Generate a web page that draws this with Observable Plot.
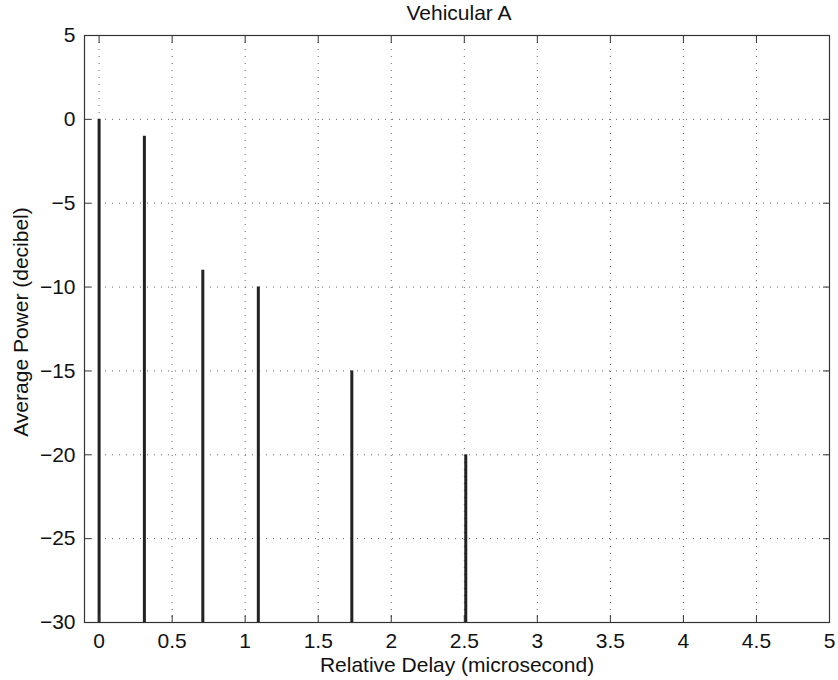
<!DOCTYPE html>
<html>
<head>
<meta charset="utf-8">
<script src="https://cdn.jsdelivr.net/npm/d3@7"></script>
<script src="https://cdn.jsdelivr.net/npm/@observablehq/plot@0.6"></script>
<style>
  html, body { margin: 0; padding: 0; background: #fff; }
</style>
</head>
<body>
<div id="chart"></div>
<script>
// Data: ITU Vehicular A channel profile
const delays = [0, 0.31, 0.71, 1.09, 1.73, 2.51];   // microseconds
const powers = [0, -1, -9, -10, -15, -20];          // dB
const xTicks = [0, 0.5, 1, 1.5, 2, 2.5, 3, 3.5, 4, 4.5, 5];
const yTicks = [5, 0, -5, -10, -15, -20, -25, -30];
const xDomain = [-0.1, 5];
const yDomain = [-30, 5];
const titleText = "Vehicular A";
const xLabel = "Relative Delay (microsecond)";
const yLabel = "Average Power (decibel)";

const taps = delays.map((d, i) => ({delay: d, power: powers[i]}));
const font = "'Liberation Sans', Arial, Helvetica, sans-serif";
const frameColor = "#333";
const tick = 7;
const fs = 21;
const fmt = (d) => (d < 0 ? "\u2212" + Math.abs(d) : String(d));

const chart = Plot.plot({
  width: 838,
  height: 680,
  marginLeft: 84,
  marginRight: 9,
  marginTop: 35,
  marginBottom: 58,
  style: {fontFamily: font, fontSize: fs + "px", color: "#111", background: "#fff"},
  x: {domain: xDomain},
  y: {domain: yDomain},
  marks: [
    Plot.gridX(xTicks, {stroke: "#666", strokeOpacity: 1, strokeDasharray: "1,6"}),
    Plot.gridY(yTicks, {stroke: "#666", strokeOpacity: 1, strokeDasharray: "1,6"}),
    Plot.ruleX(taps, {x: "delay", y1: () => yDomain[0], y2: "power", stroke: "#222", strokeWidth: 3}),
    Plot.frame({stroke: frameColor, strokeWidth: 1.2}),
    Plot.axisX(xTicks, {anchor: "bottom", tickSize: tick, dy: -tick, tickPadding: 11, fontSize: fs, tickFormat: fmt, stroke: frameColor, label: null}),
    Plot.axisX(xTicks, {anchor: "top", tickSize: tick, dy: tick, tickFormat: () => "", stroke: frameColor, label: null}),
    Plot.axisY(yTicks, {anchor: "left", tickSize: tick, dx: tick, tickPadding: 9, fontSize: fs, tickFormat: fmt, stroke: frameColor, label: null}),
    Plot.axisY(yTicks, {anchor: "right", tickSize: tick, dx: -tick, tickFormat: () => "", stroke: frameColor, label: null}),
    Plot.text([titleText], {frameAnchor: "top", lineAnchor: "top", dy: -30, dx: 2, fontSize: fs, fill: "#111"}),
    Plot.text([xLabel], {frameAnchor: "bottom", lineAnchor: "top", dy: 35, fontSize: fs, fill: "#111"}),
    Plot.text([yLabel], {frameAnchor: "left", rotate: -90, textAnchor: "middle", lineAnchor: "top", dx: -71, dy: -7, fontSize: fs, fill: "#111"})
  ]
});
document.getElementById("chart").appendChild(chart);
</script>
</body>
</html>
